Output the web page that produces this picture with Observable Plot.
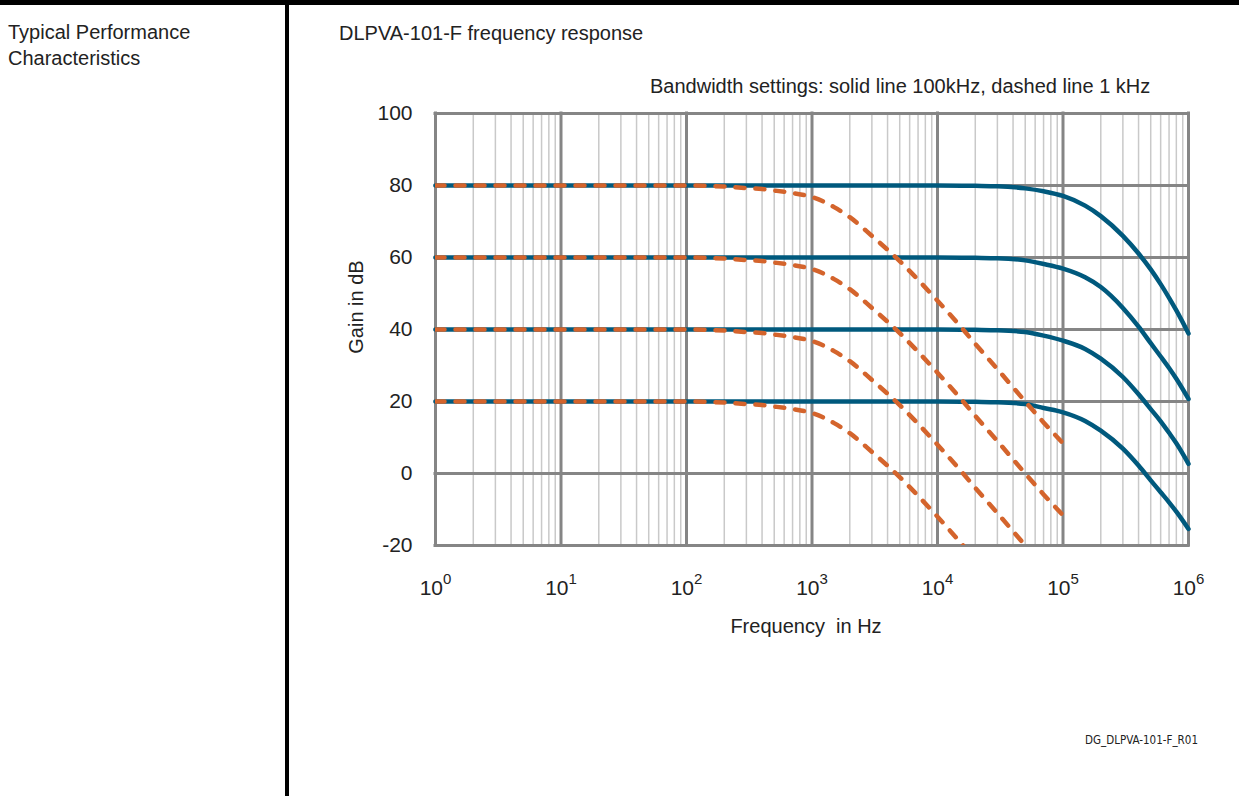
<!DOCTYPE html>
<html><head><meta charset="utf-8">
<script src="https://cdn.jsdelivr.net/npm/d3@7"></script>
<script src="https://cdn.jsdelivr.net/npm/@observablehq/plot@0.6"></script>
<style>
html,body{margin:0;padding:0;background:#fff;}
body{width:1239px;height:796px;position:relative;overflow:hidden;font-family:"Liberation Sans",Arial,sans-serif;color:#222;}
#chart{position:absolute;left:300px;top:60px;}
#deco{position:absolute;left:0;top:0;z-index:1;pointer-events:none;}
</style></head><body>
<div id="chart"></div>
<svg id="deco" width="1239" height="796" font-family="Liberation Sans, Arial, sans-serif" fill="#222">
 <rect x="0" y="0" width="1239" height="5" fill="#000"/>
 <rect x="285" y="0" width="4" height="796" fill="#000"/>
 <text id="side1" x="8" y="39" font-size="20"></text>
 <text id="side2" x="8" y="65" font-size="20"></text>
 <text id="title" x="339" y="40" font-size="20"></text>
 <text id="subtitle" x="650" y="93" font-size="20"></text>
 <text id="xlabel" x="806" y="633" text-anchor="middle" font-size="20" xml:space="preserve"></text>
 <text id="ylabel" transform="translate(363,307) rotate(-90)" text-anchor="middle" font-size="20"></text>
 <text id="footer" x="1085" y="744" font-size="11.5" font-family="Liberation Sans Narrow, DejaVu Sans Condensed, sans-serif"></text>
</svg>
<script>
// ---- texts ----
const sideText = ["Typical Performance", "Characteristics"];
const titleText = "DLPVA-101-F frequency response";
const subtitleText = "Bandwidth settings: solid line 100kHz, dashed line 1 kHz";
const xLabelText = "Frequency  in Hz";
const yLabelText = "Gain in dB";
const footerText = "DG_DLPVA-101-F_R01";

// ---- ticks ----
const decadeTicks = [1, 10, 100, 1000, 10000, 100000, 1000000];
const minorSteps = [2, 3, 4, 5, 6, 7, 8, 9];
const gainTicks = [-20, 0, 20, 40, 60, 80, 100];

// ---- solid lines: 100 kHz bandwidth ----
const freqSolid = [1, 10, 100, 1000, 10000, 20000, 30000, 50000, 70000, 100000, 150000, 200000, 300000, 400000, 500000, 600000, 700000, 800000, 1000000];
const gainSolid80 = [80, 80, 80, 80, 80, 79.9, 79.8, 79.2, 78.4, 77.1, 74.4, 71.5, 66.0, 61.1, 56.7, 52.6, 48.8, 45.3, 38.9];
const gainSolid60 = [60, 60, 60, 60, 60, 59.9, 59.8, 59.2, 58.2, 56.9, 54.5, 51.8, 46.0, 40.8, 36.2, 32.5, 29.3, 26.3, 20.7];
const gainSolid40 = [40, 40, 40, 40, 40, 39.9, 39.8, 39.3, 38.3, 36.9, 34.6, 31.9, 26.8, 22.0, 17.9, 14.5, 11.3, 8.4, 2.7];
const gainSolid20 = [20, 20, 20, 20, 20, 19.9, 19.8, 19.3, 18.2, 17.0, 14.6, 11.9, 6.9, 2.2, -1.9, -5.2, -8.0, -10.6, -15.4];

// ---- dashed lines: 1 kHz bandwidth ----
const freqDashed = [1, 10, 100, 200, 300, 400, 500, 700, 1000, 1500, 2000, 3000, 5000, 7000, 10000, 16000, 20000, 30000, 50000, 70000, 100000];
const gainDashed80 = [80, 80, 80, 79.7, 79.3, 79.0, 78.6, 77.9, 76.8, 74.0, 71.2, 66.0, 59.0, 53.8, 48.0, 40.0, 36.0, 29.0, 20.0, 14.2, 8.4];
const gainDashed60 = [60, 60, 60, 59.7, 59.3, 59.0, 58.6, 57.9, 56.8, 54.0, 51.2, 46.0, 39.0, 33.8, 28.0, 20.0, 16.0, 9.0, 0.0, -5.8, -11.6];
const gainDashed40 = [40, 40, 40, 39.7, 39.3, 39.0, 38.6, 37.9, 36.8, 34.0, 31.2, 26.0, 19.0, 13.8, 8.0, 0.0, -4.0, -11.0, -20.0];
const gainDashed20 = [20, 20, 20, 19.7, 19.3, 19.0, 18.6, 17.9, 16.8, 14.0, 11.2, 6.0, -1.0, -6.2, -12.0, -20.0];

// fill texts
document.getElementById("side1").textContent = sideText[0];
document.getElementById("side2").textContent = sideText[1];
document.getElementById("title").textContent = titleText;
document.getElementById("subtitle").textContent = subtitleText;
document.getElementById("xlabel").textContent = xLabelText;
document.getElementById("ylabel").textContent = yLabelText;
document.getElementById("footer").textContent = footerText;

function toRows(freqs, gains, level) {
  return gains.map((g, i) => ({f: freqs[i], gain: g, level}));
}
const solidRows = [
  ...toRows(freqSolid, gainSolid80, 80),
  ...toRows(freqSolid, gainSolid60, 60),
  ...toRows(freqSolid, gainSolid40, 40),
  ...toRows(freqSolid, gainSolid20, 20)
];
const dashedRows = [
  ...toRows(freqDashed, gainDashed80, 80),
  ...toRows(freqDashed, gainDashed60, 60),
  ...toRows(freqDashed, gainDashed40, 40),
  ...toRows(freqDashed, gainDashed20, 20)
];
const minorTicks = decadeTicks.slice(0, -1).flatMap(d => minorSteps.map(m => m * d));

const plot = Plot.plot({
  width: 920,
  height: 600,
  marginLeft: 135,
  marginRight: 32,
  marginTop: 53,
  marginBottom: 115,
  style: {fontFamily: "Liberation Sans, Arial, sans-serif", fontSize: "21px", color: "#222", background: "none", overflow: "visible"},
  x: {type: "log", domain: [1, 1000000]},
  y: {domain: [-20, 100]},
  marks: [
    Plot.ruleX(minorTicks, {stroke: "#c9c9c9", strokeWidth: 1.5}),
    Plot.ruleX(decadeTicks, {stroke: "#858585", strokeWidth: 3, strokeLinecap: "square"}),
    Plot.ruleY(gainTicks, {stroke: "#858585", strokeWidth: 3, strokeLinecap: "square"}),
    Plot.line(solidRows, {x: "f", y: "gain", z: "level", stroke: "#00597d", strokeWidth: 4.5, curve: "monotone-x"}),
    Plot.line(dashedRows, {x: "f", y: "gain", z: "level", stroke: "#d4642c", strokeWidth: 4.5, strokeDasharray: "9,11", strokeLinecap: "round", curve: "monotone-x", clip: true}),
    Plot.axisX({ticks: decadeTicks, tickSize: 0, tickPadding: 35, fontSize: 21, label: null, tickFormat: d => String(Math.round(Math.log10(d)))}),
    Plot.axisY({ticks: gainTicks, tickSize: 0, tickPadding: 23, fontSize: 21, label: null, tickFormat: d => String(d)})
  ]
});

// superscript exponents on x tick labels
plot.querySelectorAll('g[aria-label="x-axis tick label"] text').forEach(t => {
  const e = t.textContent;
  t.textContent = "10";
  const ts = document.createElementNS("http://www.w3.org/2000/svg", "tspan");
  ts.setAttribute("dy", "-11");
  ts.setAttribute("font-size", "15");
  ts.textContent = e;
  t.appendChild(ts);
});

document.getElementById("chart").appendChild(plot);
</script>
</body></html>
